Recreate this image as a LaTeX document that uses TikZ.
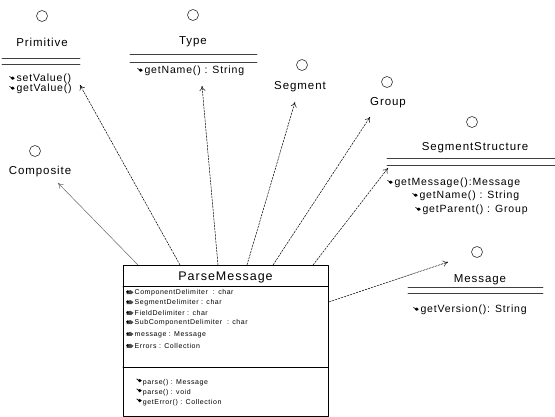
\documentclass[tikz,border=0pt]{standalone}
\usepackage{fontspec}
\setmainfont{Liberation Sans}[LetterSpace=8]
\usetikzlibrary{arrows.meta}
\newcommand{\opmark}{\tikz[x=1pt,y=1pt,baseline=-3.5pt]{\fill (0,0) -- (2,1.7) -- (4,0) -- (2,-1.7) -- cycle; \draw[line width=0.7pt] (-1.2,1.8) -- (1,0.4);}\,}
\newcommand{\attmark}{\tikz[x=1pt,y=1pt,baseline=-2.5pt]{\fill[black!70] (0,-1.8) -- (5,-1.8) -- (7,0.2) -- (4,2.2) -- (0,1.4) -- cycle; \fill (1,0.6) circle (1.3);}\,}

\begin{document}
\begin{tikzpicture}[line cap=round,line join=round,x=1pt,y=-1pt,
  iface/.style={circle,draw,minimum size=11pt,inner sep=0pt,line width=0.5pt},
  cname/.style={inner sep=0pt,font=\fontsize{11.5}{13}\selectfont},
  oper/.style={anchor=west,inner sep=0pt,font=\fontsize{10.5}{12}\selectfont},
  attr/.style={anchor=west,inner sep=0pt,font=\fontsize{7}{8}\selectfont},
  sep/.style={line width=0.9pt,black!75},
  dep/.style={line width=0.5pt,dash pattern=on 2pt off 1.2pt,-{To[length=5pt,width=6pt]}}]
\useasboundingbox (0,0) rectangle (555,417);

\node[iface] (primC) at (42,16) {};
\node[cname] (primN) at (42,42) {Primitive};
\draw[sep] (2,58)--(80,58);
\draw[sep] (2,64)--(80,64);
\node[oper] (primM1) at (9,79) {\opmark setValue()};
\node[oper] (primM2) at (9,89) {\opmark getValue()};

\node[iface] (typeC) at (193,15) {};
\node[cname] (typeN) at (193,42) {Type};
\draw[sep] (130,54)--(257,54);
\draw[sep] (130,62)--(257,62);
\node[oper] (typeM1) at (137,71) {\opmark getName() : String};

\node[iface] (segC) at (302,65) {};
\node[cname] (segN) at (300,87) {Segment};

\node[iface] (grpC) at (387,82) {};
\node[cname] (grpN) at (388,103) {Group};

\node[iface] (compC) at (35,151) {};
\node[cname] (compN) at (40,172) {Composite};

\node[iface] (ssC) at (472,122) {};
\node[cname] (ssN) at (475,148) {SegmentStructure};
\draw[sep] (387,158)--(555,158);
\draw[sep] (387,165)--(555,165);
\node[oper] (ssM1) at (387,183) {\opmark getMessage():Message};
\node[oper] (ssM2) at (412,196) {\opmark getName() : String};
\node[oper] (ssM3) at (415,210) {\opmark getParent() : Group};

\node[iface] (msgC) at (477,252) {};
\node[cname] (msgN) at (480,280) {Message};
\draw[sep] (408,287)--(543,287);
\draw[sep] (408,293)--(543,293);
\node[oper] (msgM1) at (413,310) {\opmark getVersion(): String};

\node[draw,line width=0.7pt,anchor=north west,minimum width=205pt,minimum height=151pt,inner sep=0pt] (pm) at (123,265) {};
\node[inner sep=0pt,font=\fontsize{12.5}{14}\selectfont] (pmN) at (225.5,277) {ParseMessage};
\draw[line width=0.6pt] (123,286)--(328,286);
\node[attr] (pmA1) at (126,293) {\attmark ComponentDelimiter \ : char};
\node[attr] (pmA2) at (126,303) {\attmark SegmentDelimiter : char};
\node[attr] (pmA3) at (126,313) {\attmark FieldDelimiter : char};
\node[attr] (pmA4) at (126,323) {\attmark SubComponentDelimiter \ : char};
\node[attr] (pmA5) at (126,335) {\attmark message : Message};
\node[attr] (pmA6) at (126,346) {\attmark Errors : Collection};
\draw[line width=0.6pt] (123,367)--(328,367);
\node[attr] (pmO1) at (136,382) {\opmark parse() : Message};
\node[attr] (pmO2) at (136,392) {\opmark parse() : void};
\node[attr] (pmO3) at (136,402) {\opmark getError() : Collection};

\coordinate (toComp) at (58,183);
\coordinate (toPrim) at (80,85);
\coordinate (toType) at (202,86);
\coordinate (toSeg) at (295,102);
\coordinate (toGrp) at (370,117);
\coordinate (toSS) at (388,168);
\coordinate (toMsg) at (448,262);

\draw[dep,dash pattern=,black!60] ([xshift=15pt]pm.north west) -- (toComp);
\draw[dep] ([xshift=57pt]pm.north west) -- (toPrim);
\draw[dep] ([xshift=95pt]pm.north west) -- (toType);
\draw[dep] ([xshift=124pt]pm.north west) -- (toSeg);
\draw[dep] ([xshift=150pt]pm.north west) -- (toGrp);
\draw[dep] ([xshift=190pt]pm.north west) -- (toSS);
\draw[dep] ([yshift=-37pt]pm.north east) -- (toMsg);
\end{tikzpicture}
\end{document}
